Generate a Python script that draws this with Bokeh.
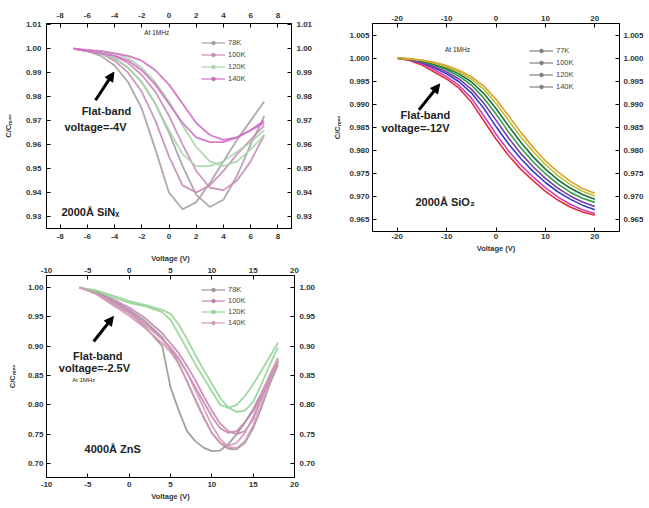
from bokeh.plotting import figure
from bokeh.layouts import row, column
from bokeh.models import (LinearAxis, Range1d, FixedTicker, PrintfTickFormatter,
                          Label, Arrow, NormalHead, Legend, LegendItem, ColumnDataSource)
from bokeh.embed import file_html
from bokeh.resources import INLINE

FONT = "Liberation Sans"
NAN = float("nan")

# ---------------- Panel 1: 2000 Å SiNx ----------------
v1 = [-7, -6, -5, -4, -3, -2, -1, 0, 1, 2, 3, 4, 5, 6, 7]
sin_78a = [1.000, 0.999, 0.997, 0.993, 0.986, 0.975, 0.958, 0.940, 0.933, 0.936, 0.944, 0.953, 0.962, 0.970, 0.978]
sin_78b = [1.000, 0.999, 0.998, 0.996, 0.992, 0.986, 0.977, 0.965, 0.951, 0.939, 0.934, 0.937, 0.947, 0.960, 0.972]
sin_100a = [1.000, 0.999, 0.998, 0.995, 0.990, 0.982, 0.970, 0.955, 0.943, 0.940, 0.943, 0.949, 0.956, 0.962, 0.968]
sin_100b = [1.000, 0.999, 0.998, 0.997, 0.994, 0.989, 0.982, 0.972, 0.960, 0.949, 0.942, 0.941, 0.945, 0.953, 0.964]
sin_120a = [1.000, 0.999, 0.998, 0.996, 0.992, 0.986, 0.977, 0.966, 0.956, 0.951, 0.951, 0.953, 0.957, 0.961, 0.966]
sin_120b = [1.000, 0.999, 0.999, 0.998, 0.996, 0.992, 0.986, 0.978, 0.968, 0.959, 0.953, 0.951, 0.953, 0.958, 0.964]
sin_140a = [1.000, 0.999, 0.998, 0.997, 0.995, 0.991, 0.985, 0.977, 0.969, 0.963, 0.961, 0.961, 0.963, 0.966, 0.970]
sin_140b = [1.000, 0.9995, 0.999, 0.998, 0.997, 0.995, 0.991, 0.985, 0.977, 0.969, 0.964, 0.962, 0.963, 0.966, 0.969]
xticks1 = [-8, -6, -4, -2, 0, 2, 4, 6, 8]
yticks1 = [0.93, 0.94, 0.95, 0.96, 0.97, 0.98, 0.99, 1.00, 1.01]
temps1 = ["78K", "100K", "120K", "140K"]

# ---------------- Panel 2: 2000 Å SiO2 ----------------
v2 = [-20, -17.5, -15, -12.5, -10, -7.5, -5, -2.5, 0, 2.5, 5, 7.5, 10, 12.5, 15, 17.5, 20]
sio_77a = [1.0000, 0.9995, 0.9985, 0.9970, 0.9955, 0.9935, 0.9905, 0.9865, 0.9825, 0.9790, 0.9760, 0.9735, 0.9712, 0.9693, 0.9678, 0.9667, 0.9660]
sio_77b = [1.0000, 0.9996, 0.9988, 0.9975, 0.9960, 0.9941, 0.9914, 0.9876, 0.9836, 0.9800, 0.9769, 0.9743, 0.9720, 0.9700, 0.9684, 0.9672, 0.9664]
sio_100a = [1.0000, 0.9997, 0.9990, 0.9979, 0.9966, 0.9949, 0.9925, 0.9892, 0.9852, 0.9815, 0.9783, 0.9755, 0.9731, 0.9711, 0.9695, 0.9682, 0.9672]
sio_100b = [1.0000, 0.9997, 0.9991, 0.9982, 0.9970, 0.9955, 0.9933, 0.9903, 0.9866, 0.9828, 0.9794, 0.9765, 0.9740, 0.9719, 0.9702, 0.9689, 0.9679]
sio_120a = [1.0000, 0.9998, 0.9993, 0.9985, 0.9975, 0.9961, 0.9942, 0.9914, 0.9879, 0.9841, 0.9806, 0.9776, 0.9750, 0.9728, 0.9710, 0.9697, 0.9688]
sio_120b = [1.0000, 0.9998, 0.9994, 0.9987, 0.9978, 0.9966, 0.9949, 0.9924, 0.9891, 0.9854, 0.9818, 0.9787, 0.9760, 0.9737, 0.9719, 0.9705, 0.9695]
sio_140a = [1.0000, 0.9998, 0.9995, 0.9989, 0.9981, 0.9970, 0.9955, 0.9933, 0.9902, 0.9866, 0.9830, 0.9798, 0.9770, 0.9746, 0.9727, 0.9712, 0.9702]
sio_140b = [1.0000, 0.9999, 0.9996, 0.9991, 0.9984, 0.9974, 0.9960, 0.9940, 0.9911, 0.9876, 0.9840, 0.9807, 0.9778, 0.9754, 0.9734, 0.9718, 0.9708]
xticks2 = [-20, -10, 0, 10, 20]
yticks2 = [0.965, 0.970, 0.975, 0.980, 0.985, 0.990, 0.995, 1.000, 1.005]
temps2 = ["77K", "100K", "120K", "140K"]

# ---------------- Panel 3: 4000 Å ZnS ----------------
v3 = [-6, -4, -2, 0, 2, 4, 5, 6, 7, 8, 9, 10, 11, 12, 13, 14, 15, 16, 17, 18]
zns_78a = [1.000, 0.990, 0.972, 0.957, 0.932, 0.900, 0.830, 0.790, 0.755, 0.738, 0.727, 0.721, 0.722, 0.733, 0.750, 0.770, 0.790, 0.815, 0.843, 0.873]
zns_78b = [1.000, 0.992, 0.978, 0.962, 0.942, 0.915, 0.895, 0.870, 0.840, 0.808, 0.778, 0.752, 0.735, 0.725, 0.724, 0.735, 0.760, 0.795, 0.835, 0.868]
zns_100a = [1.000, 0.991, 0.975, 0.960, 0.938, 0.912, 0.895, 0.878, 0.855, 0.830, 0.805, 0.780, 0.760, 0.752, 0.755, 0.770, 0.793, 0.820, 0.850, 0.878]
zns_100b = [1.000, 0.993, 0.980, 0.966, 0.947, 0.922, 0.905, 0.888, 0.866, 0.842, 0.815, 0.790, 0.768, 0.755, 0.750, 0.755, 0.775, 0.810, 0.845, 0.872]
zns_120a = [1.000, 0.994, 0.983, 0.974, 0.968, 0.958, 0.945, 0.920, 0.895, 0.869, 0.846, 0.823, 0.800, 0.795, 0.800, 0.815, 0.835, 0.858, 0.882, 0.906]
zns_120b = [1.000, 0.995, 0.986, 0.977, 0.970, 0.962, 0.955, 0.937, 0.912, 0.885, 0.860, 0.836, 0.812, 0.795, 0.788, 0.790, 0.805, 0.835, 0.868, 0.898]
zns_140a = [1.000, 0.989, 0.970, 0.952, 0.930, 0.905, 0.890, 0.870, 0.840, 0.810, 0.780, 0.752, 0.735, 0.730, 0.735, 0.752, 0.780, 0.815, 0.850, 0.880]
zns_140b = [1.000, 0.990, 0.974, 0.956, 0.936, 0.912, 0.898, 0.880, 0.855, 0.825, 0.795, 0.765, 0.742, 0.728, 0.726, 0.738, 0.765, 0.800, 0.840, 0.875]
xticks3 = [-10, -5, 0, 5, 10, 15, 20]
yticks3 = [0.70, 0.75, 0.80, 0.85, 0.90, 0.95, 1.00]
temps3 = ["78K", "100K", "120K", "140K"]

COL1 = ["#a89ea4", "#c98bb8", "#a9d6a9", "#cf6fc4"]
COL2 = [["#e0303a", "#d040b8"], ["#3040c0", "#7a3aa8"], ["#30a040", "#1f6e40"], ["#b8c030", "#e0a030"]]
COL3 = ["#a09496", "#c584b4", "#95d495", "#d49ab8"]
LEG2 = "#808080"

YLABEL = "C/C\u2098\u2090\u2093"


def style_axis(ax, standoff, fmt=None, label=None, label_standoff=2):
    ax.axis_line_color = "black"
    ax.major_tick_in = 4
    ax.major_tick_out = 0
    ax.minor_tick_in = 2
    ax.minor_tick_out = 0
    ax.major_tick_line_color = "black"
    ax.minor_tick_line_color = "black"
    ax.major_label_text_font = FONT
    ax.major_label_text_font_size = "8px"
    ax.major_label_text_font_style = "bold"
    ax.major_label_text_color = "#333333"
    ax.major_label_standoff = standoff
    if fmt is not None:
        ax.formatter = PrintfTickFormatter(format=fmt)
    if label is not None:
        ax.axis_label = label
        ax.axis_label_text_font = FONT
        ax.axis_label_text_font_size = "7.5px"
        ax.axis_label_text_font_style = "bold"
        ax.axis_label_text_color = "#333333"
        ax.axis_label_standoff = label_standoff


def make_fig(xr, yr, fw, fh, mb, xt, yt, yfmt, st, xlab_top, xlab_bot, ylab_standoff):
    p = figure(frame_width=fw, frame_height=fh, x_range=Range1d(*xr), y_range=Range1d(*yr),
               output_backend="svg", toolbar_location=None, x_axis_location=None, y_axis_location=None,
               min_border_left=mb[0], min_border_top=mb[1], min_border_right=mb[2], min_border_bottom=mb[3])
    p.outline_line_color = "black"
    p.outline_line_width = 1
    p.xgrid.visible = False
    p.ygrid.visible = False
    p.background_fill_color = "white"
    p.border_fill_color = "white"
    xtk = FixedTicker(ticks=xt, num_minor_ticks=1)
    ytk = FixedTicker(ticks=yt, num_minor_ticks=1)
    left = LinearAxis(ticker=ytk)
    style_axis(left, st[0], yfmt, YLABEL, ylab_standoff)
    right = LinearAxis(ticker=ytk)
    style_axis(right, st[1], yfmt)
    top = LinearAxis(ticker=xtk)
    style_axis(top, st[2], "%d", xlab_top, 2)
    bot = LinearAxis(ticker=xtk)
    style_axis(bot, st[3], "%d", xlab_bot, 2)
    p.add_layout(left, "left")
    p.add_layout(right, "right")
    p.add_layout(top, "above")
    p.add_layout(bot, "below")
    return p


def add_text(p, x, y, txt, size, align="center", style="bold"):
    p.add_layout(Label(x=x, y=y, text=txt, text_font=FONT, text_font_size=size,
                       text_font_style=style, text_align=align, text_baseline="middle",
                       text_color="#222222"))


def add_legend(p, names, colors, loc, spacing):
    items = []
    for n, c in zip(names, colors):
        src = ColumnDataSource(dict(x=[NAN], y=[NAN]))
        r1 = p.line("x", "y", source=src, line_color=c, line_width=1.2)
        r2 = p.scatter("x", "y", source=src, size=3, color=c)
        items.append(LegendItem(label=n, renderers=[r1, r2]))
    lg = Legend(items=items, location=loc, padding=0, margin=0, spacing=spacing,
                label_height=9, glyph_height=9, glyph_width=24, label_standoff=3,
                label_text_font=FONT, label_text_font_size="7.5px", label_text_color="#444444",
                background_fill_alpha=0, border_line_alpha=0)
    p.add_layout(lg)


# ---------- Figure 1 ----------
p1 = make_fig((-9, 9), (0.925, 1.0105), 245, 205, (40, 23, 37, 22), xticks1, yticks1, "%.2f",
              (5, 5, 6, 5), None, None, 10)
series1 = [(sin_78a, sin_78b), (sin_100a, sin_100b), (sin_120a, sin_120b), (sin_140a, sin_140b)]
for (a, b), c in zip(series1, COL1):
    p1.line(v1, a, line_color=c, line_width=1.8, line_alpha=0.9)
    p1.line(v1, b, line_color=c, line_width=1.8, line_alpha=0.9)
add_legend(p1, temps1, COL1, (155, 145), 3)
add_text(p1, -0.9, 1.0068, "At 1MHz", "6.5px", style="normal")
add_text(p1, -4.6, 0.9738, "Flat-band", "11px")
add_text(p1, -5.4, 0.9672, "voltage=-4V", "11px")
add_text(p1, -7.9, 0.9318, "2000\u00c5 SiN\u2093", "11px", align="left")
p1.add_layout(Arrow(end=NormalHead(size=9, fill_color="black", line_color="black"),
                    x_start=-5.4, y_start=0.9785, x_end=-4.05, y_end=0.9902,
                    line_width=3, line_color="black"))

# ---------- Figure 2 ----------
p2 = make_fig((-25, 25), (0.9625, 1.0075), 247, 208, (40, 23, 29, 22), xticks2, yticks2, "%.3f",
              (3, 4, 3, 2), None, "Voltage (V)", 4)
series2 = [(sio_77a, sio_77b), (sio_100a, sio_100b), (sio_120a, sio_120b), (sio_140a, sio_140b)]
for (a, b), cc in zip(series2, COL2):
    p2.line(v2, a, line_color=cc[0], line_width=1.6)
    p2.line(v2, b, line_color=cc[1], line_width=1.6)
add_legend(p2, temps2, [LEG2] * 4, (157, 140), 3)
add_text(p2, -7.8, 1.0019, "At 1MHz", "6.5px", style="normal")
add_text(p2, -14.3, 0.9878, "Flat-band", "11px")
add_text(p2, -16.3, 0.9850, "voltage=-12V", "11px")
add_text(p2, -16.3, 0.9688, "2000\u00c5 SiO\u2082", "11px", align="left")
p2.add_layout(Arrow(end=NormalHead(size=9, fill_color="black", line_color="black"),
                    x_start=-15.6, y_start=0.9888, x_end=-11.4, y_end=0.9944,
                    line_width=3, line_color="black"))

# ---------- Figure 3 ----------
p3 = make_fig((-10, 20), (0.676, 1.0205), 248, 202, (37, 25, 40, 25), xticks3, yticks3, "%.2f",
              (3, 5, 3, 4), "Voltage (V)", "Voltage (V)", 8)
series3 = [(zns_78a, zns_78b), (zns_100a, zns_100b), (zns_120a, zns_120b), (zns_140a, zns_140b)]
for (a, b), c in zip(series3, COL3):
    p3.line(v3, a, line_color=c, line_width=1.8, line_alpha=0.9)
    p3.line(v3, b, line_color=c, line_width=1.8, line_alpha=0.9)
add_legend(p3, temps3, COL3, (155, 150), 2)
add_text(p3, -3.8, 0.8824, "Flat-band", "11px")
add_text(p3, -4.2, 0.8620, "voltage=-2.5V", "11px")
add_text(p3, -5.5, 0.8415, "At 1MHz", "6px", style="normal")
add_text(p3, -5.4, 0.724, "4000\u00c5 ZnS", "11px", align="left")
p3.add_layout(Arrow(end=NormalHead(size=9, fill_color="black", line_color="black"),
                    x_start=-4.3, y_start=0.908, x_end=-1.9, y_end=0.9506,
                    line_width=3, line_color="black"))

layout = row(column(p1, p3), p2)
open("out.html", "w").write(file_html(layout, INLINE))
